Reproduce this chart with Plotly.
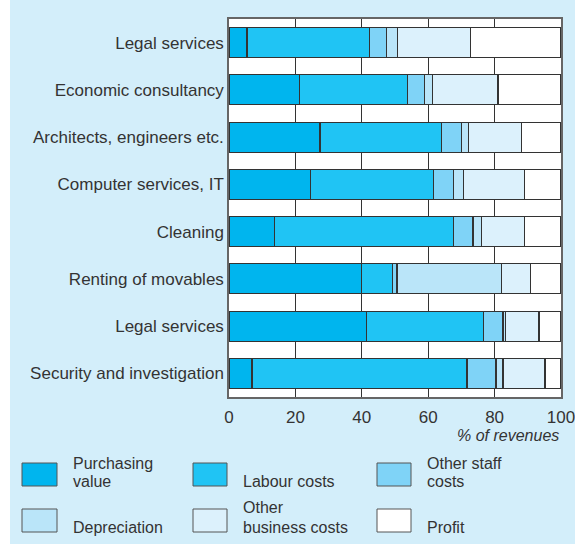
import plotly.graph_objects as go

categories = ["Legal services", "Economic consultancy", "Architects, engineers etc.",
              "Computer services, IT", "Cleaning", "Renting of movables",
              "Legal services", "Security and investigation"]
series_names = ["Purchasing value", "Labour costs", "Other staff costs",
                "Depreciation", "Other business costs", "Profit"]
purchasing = [5.4, 21.2, 27.4, 24.6, 13.7, 39.9, 41.3, 6.9]
labour = [36.8, 32.5, 36.6, 37.1, 53.8, 9.3, 35.4, 64.8]
other_staff = [5.3, 5.2, 6.0, 6.0, 6.0, 1.4, 5.8, 8.7]
depreciation = [3.3, 2.5, 2.2, 3.0, 2.6, 31.4, 0.9, 2.1]
other_business = [22.0, 19.6, 16.0, 18.3, 12.9, 8.8, 10.0, 12.7]
profit = [27.2, 19.0, 11.8, 11.0, 11.0, 9.2, 6.6, 4.8]
x_ticks = [0, 20, 40, 60, 80, 100]
x_title = "% of revenues"

series_values = [purchasing, labour, other_staff, depreciation, other_business, profit]
colors = ["#00B5EE", "#20C4F4", "#7FD3F7", "#BAE5F9", "#DCF1FC", "#FFFFFF"]
legend_lines = [["Purchasing", "value"], ["Labour costs"], ["Other staff", "costs"],
                ["Depreciation"], ["Other", "business costs"], ["Profit"]]

BG = "#D3EEFA"
TXT = "#333333"

fig = go.Figure()
ypos = list(range(len(categories)))
for name, vals, col in zip(series_names, series_values, colors):
    fig.add_trace(go.Bar(
        y=ypos, x=vals, name=name, orientation="h",
        marker=dict(color=col, line=dict(color="#333333", width=1.2)),
        width=0.635, showlegend=False))

W, H = 575, 544
L, R, T, B = 229, 14, 19, 147
pw, ph = W - L - R, H - T - B

def px2x(px):
    return (px - L) / pw

def py2y(py):
    return (H - B - py) / ph

shapes = []
annotations = []
# white strip on left edge of page
shapes.append(dict(type="rect", xref="paper", yref="paper",
                   x0=px2x(-2), x1=px2x(10), y0=py2y(H + 2), y1=py2y(-2),
                   fillcolor="white", line=dict(width=0), layer="below"))

box_cols = [(22, 57), (193, 227), (377, 411)]
text_x = [71, 241, 425]
box_rows = [(463, 486), (509, 532)]
line_y = [[463, 481], [507, 527]]
for i, (name, col) in enumerate(zip(series_names, colors)):
    r, c = divmod(i, 3)
    x0, x1 = box_cols[c]
    y0, y1 = box_rows[r]
    shapes.append(dict(type="rect", xref="paper", yref="paper",
                       x0=px2x(x0), x1=px2x(x1), y0=py2y(y1), y1=py2y(y0),
                       fillcolor=col, line=dict(color="#555555", width=1)))
    lines = legend_lines[i]
    ys = line_y[r] if len(lines) == 2 else [line_y[r][1]]
    for txt, yy in zip(lines, ys):
        annotations.append(dict(xref="paper", yref="paper", x=px2x(text_x[c]), y=py2y(yy),
                                text=txt, showarrow=False, xanchor="left", yanchor="middle",
                                font=dict(size=16, color=TXT)))

annotations.append(dict(xref="paper", yref="paper", x=1, y=py2y(435), text="<i>" + x_title + "</i>",
                        showarrow=False, xanchor="right", yanchor="middle",
                        font=dict(size=16, color=TXT)))

fig.update_layout(
    width=W, height=H,
    margin=dict(l=L, r=R, t=T, b=B),
    paper_bgcolor=BG, plot_bgcolor="white",
    barmode="stack", bargap=0.365,
    font=dict(family="Liberation Sans, Arial, sans-serif", size=17, color=TXT),
    shapes=shapes, annotations=annotations,
    xaxis=dict(range=[0, 100], tickvals=x_ticks, ticktext=[str(t) for t in x_ticks],
               showgrid=True, gridcolor="#333333", gridwidth=1.2,
               showline=True, linecolor="#666666", linewidth=1.5, mirror=True,
               ticks="outside", ticklen=4, tickcolor="rgba(0,0,0,0)",
               ticklabeloverflow="allow", automargin=False,
               zeroline=False, tickfont=dict(size=17, color=TXT), fixedrange=True),
    yaxis=dict(range=[7.5, -0.5], tickvals=ypos, ticktext=categories, automargin=False,
               showgrid=False, showline=True, linecolor="#666666", linewidth=1.5, mirror=True,
               ticks="", zeroline=False, tickfont=dict(size=17, color=TXT), fixedrange=True),
)

fig.write_html("out.html", config={"displayModeBar": False},
               post_script="document.body.style.margin='0';document.body.style.overflow='hidden';")
